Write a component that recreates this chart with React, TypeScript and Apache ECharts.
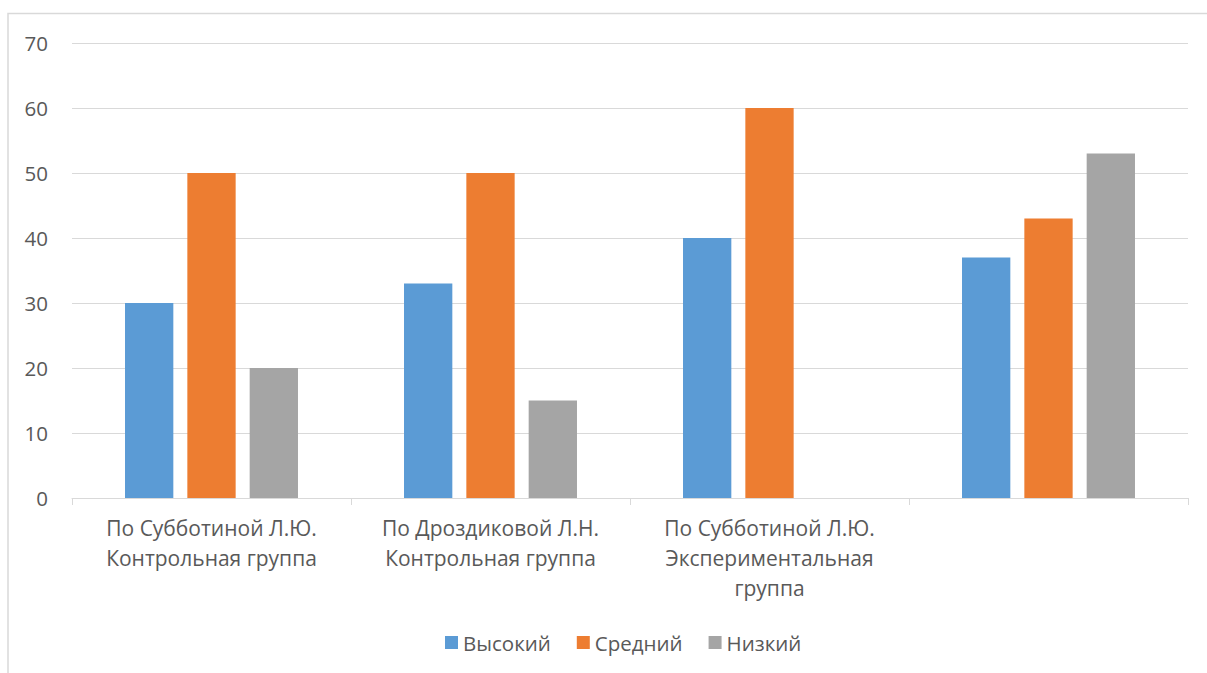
import React, { useEffect, useRef } from "react";
import * as echarts from "echarts";

const categories = [
  "По Субботиной Л.Ю.\nКонтрольная группа",
  "По Дроздиковой Л.Н.\nКонтрольная группа",
  "По Субботиной Л.Ю.\nЭкспериментальная\nгруппа",
  "",
];
const seriesNames = ["Высокий", "Средний", "Низкий"];
const highValues = [30, 33, 40, 37];
const midValues = [50, 50, 60, 43];
const lowValues = [20, 15, 0, 53];
const yTicks = { min: 0, max: 70, interval: 10 };
const colors = ["#5B9BD5", "#ED7D31", "#A5A5A5"];

const FONT = "'Open Sans', 'Noto Sans', sans-serif";
const TEXT = "#595959";
const LINE = "#D9D9D9";

export default function App() {
  const ref = useRef<HTMLDivElement>(null);
  useEffect(() => {
    if (!ref.current) return;
    const chart = echarts.init(ref.current, null, { renderer: "svg" });
    const values = [highValues, midValues, lowValues];
    chart.setOption({
      animation: false,
      backgroundColor: "#ffffff",
      textStyle: { fontFamily: FONT },
      graphic: [
        {
          type: "rect",
          shape: { x: 8, y: 13.5, width: 1400, height: 900 },
          style: { fill: "none", stroke: LINE, lineWidth: 1.5 },
          silent: true,
        },
      ],
      grid: { left: 72, right: 19, top: 43, bottom: 175, containLabel: false },
      legend: {
        data: seriesNames,
        top: 627,
        left: 440,
        icon: "rect",
        itemWidth: 13,
        itemHeight: 13,
        itemGap: 26,
        textStyle: { color: TEXT, fontSize: 20.5, fontFamily: FONT },
      },
      xAxis: {
        type: "category",
        data: categories,
        axisLine: { lineStyle: { color: LINE, width: 1 } },
        axisTick: { show: true, length: 7, lineStyle: { color: LINE } },
        axisLabel: {
          interval: 0,
          color: TEXT,
          fontSize: 21,
          lineHeight: 30,
          margin: 15,
          fontFamily: FONT,
        },
      },
      yAxis: {
        type: "value",
        min: yTicks.min,
        max: yTicks.max,
        interval: yTicks.interval,
        axisLine: { show: false },
        axisTick: { show: false },
        splitLine: { lineStyle: { color: LINE, width: 1 } },
        axisLabel: { color: TEXT, fontSize: 20.5, margin: 24, fontFamily: FONT },
      },
      series: seriesNames.map((name, i) => ({
        name,
        type: "bar",
        data: values[i],
        barGap: "29%",
        barCategoryGap: "38%",
        itemStyle: { color: colors[i] },
      })),
    });
    return () => chart.dispose();
  }, []);
  return (
    <div
      ref={ref}
      style={{ position: "fixed", left: 0, top: 0, width: 1207, height: 673 }}
    />
  );
}
